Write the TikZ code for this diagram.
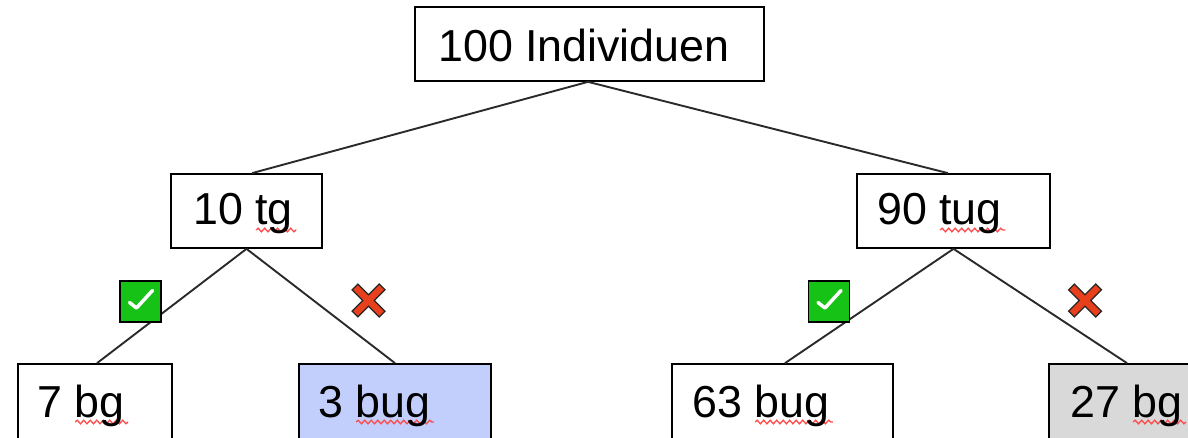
\documentclass[tikz,border=0pt]{standalone}
\usepackage{fontspec}
\setmainfont{Liberation Sans}
\usetikzlibrary{decorations.pathmorphing}
\definecolor{boxblue}{HTML}{C2CFFC}
\definecolor{boxgray}{HTML}{D9D9D9}
\definecolor{okgreen}{HTML}{17C217}
\definecolor{nored}{HTML}{E8401C}
\definecolor{wavered}{HTML}{FF4A4A}
\definecolor{linegray}{HTML}{2A2A2A}
\newsavebox\wavybox
\newcommand\wavy[1]{\sbox\wavybox{#1}\rlap{\tikz[baseline=0pt]\draw[draw=wavered,line width=1.3pt,decorate,decoration={snake,amplitude=1.8pt,segment length=6.5pt}] (-1pt,-5pt) -- ++(\wd\wavybox+3pt,0pt);}\usebox\wavybox}
\tikzset{
  box/.style={draw=black,line width=1.7pt,fill=white,inner sep=0pt,rectangle},
  txt/.style={anchor=base west,inner sep=0pt,font=\fontsize{44.8}{52}\selectfont},
  conn/.style={draw=linegray,line width=1.9pt},
  checkbox/.style={draw=black,line width=1.7pt,fill=okgreen,minimum width=41pt,minimum height=41pt,inner sep=0pt},
}
\begin{document}
\begin{tikzpicture}[x=1pt,y=-1pt]
\useasboundingbox (0,0) rectangle (1188,438);
\clip (0,0) rectangle (1188,438);
% boxes
\node[box,minimum width=349pt,minimum height=74pt] (root) at (589.5,44) {};
\node[box,minimum width=151pt,minimum height=74pt] (tg) at (246.5,211) {};
\node[box,minimum width=193pt,minimum height=74pt] (tug) at (953.5,211) {};
\node[box,minimum width=154pt,minimum height=76pt] (bg7) at (95,402) {};
\node[box,fill=boxblue,minimum width=192pt,minimum height=76pt] (bug3) at (395,402) {};
\node[box,minimum width=221pt,minimum height=76pt] (bug63) at (782.5,402) {};
\node[box,fill=boxgray,minimum width=181pt,minimum height=76pt] (bg27) at (1139.5,402) {};
% connectors
\draw[conn] ([xshift=-1.5pt]root.south) -- ([xshift=5.5pt]tg.north);
\draw[conn] ([xshift=-1.5pt]root.south) -- ([xshift=-5.5pt]tug.north);
\draw[conn] (tg.south) -- ([xshift=2pt]bg7.north);
\draw[conn] (tg.south) -- (bug3.north);
\draw[conn] (tug.south) -- ([xshift=2.5pt]bug63.north);
\draw[conn] (tug.south) -- ([xshift=-12.5pt]bg27.north);
% texts
\node[txt] (rootT) at (438,62) {100 Individuen};
\node[txt] (tgT) at (193,225) {10 \wavy{tg}};
\node[txt] (tugT) at (877,225) {90 \wavy{tug}};
\node[txt] (bg7T) at (37,417) {7 \wavy{bg}};
\node[txt] (bug3T) at (318,417) {3 \wavy{bug}};
\node[txt] (bug63T) at (692,417) {63 \wavy{bug}};
\node[txt] (bg27T) at (1070,417) {27 \wavy{bg}};
% check marks
\foreach \n/\x in {ck1/140.5,ck2/829} {
  \node[checkbox] (\n) at (\x,301.5) {};
  \draw[white,line width=3.5pt,line cap=round,line join=round]
    ([shift={(-11,1)}]\n.center) -- ([shift={(-4,6.5)}]\n.center) -- ([shift={(12,-11)}]\n.center);
}
% cross marks
\foreach \n/\x in {xm1/368.5,xm2/1085} {
  \coordinate (\n) at (\x,300.5);
  \draw[black!85,line width=9.5pt]
    ([shift={(-14,-14)}]\n) -- ([shift={(14,14)}]\n)
    ([shift={(14,-14)}]\n) -- ([shift={(-14,14)}]\n);
  \draw[nored,line width=6.5pt]
    ([shift={(-13,-13)}]\n) -- ([shift={(13,13)}]\n)
    ([shift={(13,-13)}]\n) -- ([shift={(-13,13)}]\n);
}
\end{tikzpicture}
\end{document}
